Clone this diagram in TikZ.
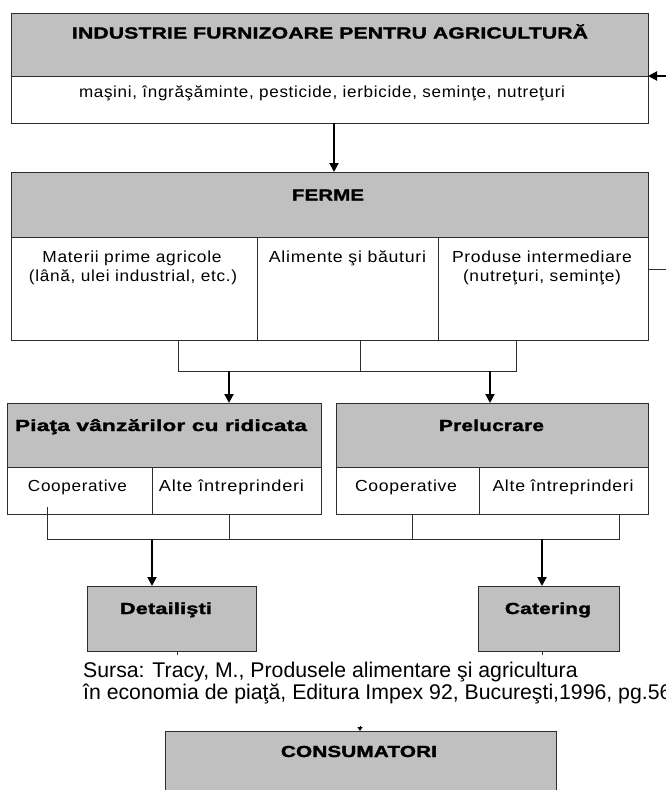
\documentclass[tikz,border=0pt]{standalone}
\usepackage{fontspec}
\usepackage{graphicx}
\setmainfont{Liberation Sans}
\newfontfamily\cellfont{Liberation Sans}[LetterSpace=4]
\newfontfamily\headfont{Liberation Sans Bold}[FakeBold=1.6, LetterSpace=1]
\usetikzlibrary{arrows.meta}
\definecolor{boxgray}{RGB}{192,192,192}
\definecolor{rulegray}{RGB}{45,45,45}
% stretch a text horizontally to a given width, keeping its height
\newcommand\fitw[2]{\resizebox{#1pt}{\height}{#2}}

\begin{document}
\begin{tikzpicture}[x=1pt,y=-1pt,
  cell/.style={draw=rulegray, line width=1pt, inner sep=0pt, outer sep=0pt, anchor=north west},
  graycell/.style={cell, fill=boxgray},
  whitecell/.style={cell, fill=white},
  txt/.style={inner sep=0pt, anchor=base, font=\cellfont\fontsize{16}{18}\selectfont},
  head/.style={inner sep=0pt, anchor=base, font=\headfont\fontsize{16}{18}\selectfont},
  note/.style={inner sep=0pt, anchor=base west, font=\fontsize{21.25}{24}\selectfont},
  link/.style={draw=rulegray, line width=1pt},
  flow/.style={draw=black, line width=2pt, -{Triangle[width=9pt,length=9pt]}},
  tip/.style={draw=black, line width=1pt, -{Triangle[width=5pt,length=4pt]}},
]
\useasboundingbox[fill=white] (0,0) rectangle (666,790);
\clip (0,0) rectangle (666,790);

% ---------- supplying industry ----------
\node[graycell, minimum width=637pt, minimum height=63pt] (ind) at (11,13) {};
\node[whitecell, minimum width=637pt, minimum height=47pt] (indw) at (11,76) {};
\node[head] (indT) at (330,38.5) {\fitw{516}{INDUSTRIE FURNIZOARE PENTRU AGRICULTURĂ}};
\node[txt] (indS) at (322,97) {\fitw{486}{maşini, îngrăşăminte, pesticide, ierbicide, seminţe, nutreţuri}};

% ---------- farms ----------
\node[graycell, minimum width=637pt, minimum height=65pt] (fer) at (11,172) {};
\node[whitecell, minimum width=246pt, minimum height=103pt] (fc1) at (11,237) {};
\node[whitecell, minimum width=181pt, minimum height=103pt] (fc2) at (257,237) {};
\node[whitecell, minimum width=210pt, minimum height=103pt] (fc3) at (438,237) {};
\node[head] (ferT) at (328,200.5) {\fitw{72}{FERME}};
\node[txt] (fc1a) at (132,262) {\fitw{179}{Materii prime agricole}};
\node[txt] (fc1b) at (133,281) {\fitw{208}{(lână, ulei industrial, etc.)}};
\node[txt] (fc2a) at (347.5,262) {\fitw{157}{Alimente şi băuturi}};
\node[txt] (fc3a) at (542,262) {\fitw{180}{Produse intermediare}};
\node[txt] (fc3b) at (542,281) {\fitw{158}{(nutreţuri, seminţe)}};

% ---------- wholesale market ----------
\node[graycell, minimum width=314pt, minimum height=64pt] (pia) at (7,403) {};
\node[whitecell, minimum width=145pt, minimum height=47pt] (pc1) at (7,467) {};
\node[whitecell, minimum width=169pt, minimum height=47pt] (pc2) at (152,467) {};
\node[head] (piaT) at (161,431) {\fitw{292}{Piaţa vânzărilor cu ridicata}};
\node[txt] (pc1a) at (77.5,491) {\fitw{99}{Cooperative}};
\node[txt] (pc2a) at (231.5,491) {\fitw{145}{Alte întreprinderi}};

% ---------- processing ----------
\node[graycell, minimum width=312pt, minimum height=64pt] (pre) at (336,403) {};
\node[whitecell, minimum width=143pt, minimum height=47pt] (qc1) at (336,467) {};
\node[whitecell, minimum width=169pt, minimum height=47pt] (qc2) at (479,467) {};
\node[head] (preT) at (491.5,431) {\fitw{105}{Prelucrare}};
\node[txt] (qc1a) at (406,491) {\fitw{102}{Cooperative}};
\node[txt] (qc2a) at (563,491) {\fitw{141}{Alte întreprinderi}};

% ---------- retail, catering, consumers ----------
\node[graycell, minimum width=169pt, minimum height=65pt] (det) at (87,586) {};
\node[head] (detT) at (166,614) {\fitw{92}{Detailişti}};
\node[graycell, minimum width=141pt, minimum height=65pt] (cat) at (478,586) {};
\node[head] (catT) at (548,614) {\fitw{86}{Catering}};
\node[graycell, minimum width=391pt, minimum height=80pt] (con) at (165,731) {};
\node[head] (conT) at (359,757) {\fitw{156}{CONSUMATORI}};

% ---------- source note ----------
\node[note] (src1) at (83,677.5) {Sursa: Tracy, M., Produsele alimentare şi agricultura};
\node[note] (src2) at (83,699.5) {în economia de piaţă, Editura Impex 92, Bucureşti,1996, pg.56};

% ---------- connector positions ----------
\coordinate (xa) at (334,0);
\coordinate (x1) at (178,0);
\coordinate (x2) at (360,0);
\coordinate (x3) at (516,0);
\coordinate (xb) at (229,0);
\coordinate (xc) at (490,0);
\coordinate (busA) at (0,371);
\coordinate (m1) at (47,507);
\coordinate (x4) at (229,0);
\coordinate (x5) at (412,0);
\coordinate (x6) at (619,0);
\coordinate (busB) at (0,539);
\coordinate (xd) at (152,0);
\coordinate (xe) at (542,0);
\coordinate (xf) at (177,0);
\coordinate (redge) at (666,76);
\coordinate (sedge) at (666,269);
\coordinate (ctop) at (360,726);

% industry -> farms
\draw[flow] (xa |- indw.south) -- (xa |- fer.north);

% farms -> wholesale / processing
\draw[link] (x1 |- fc1.south) -- (x1 |- busA) -- (x3 |- busA) -- (x3 |- fc3.south);
\draw[link] (x2 |- fc2.south) -- (x2 |- busA);
\draw[flow] (xb |- busA) -- (xb |- pia.north);
\draw[flow] (xc |- busA) -- (xc |- pre.north);

% wholesale / processing -> retail / catering
\draw[link] (m1) -- (m1 |- busB) -- (x6 |- busB) -- (x6 |- qc2.south);
\draw[link] (x4 |- pc2.south) -- (x4 |- busB);
\draw[link] (x5 |- qc1.south) -- (x5 |- busB);
\draw[flow] (xd |- busB) -- (xd |- det.north);
\draw[flow] (xe |- busB) -- (xe |- cat.north);

% short stubs below retail and catering
\draw[link] (xf |- det.south) -- ++(0,4);
\draw[link] (xe |- cat.south) -- ++(0,4);

% feedback from intermediate products back to industry
\draw[link] (fc3.east |- sedge) -- (sedge);
\draw[flow] (redge) -- (ind.south east);

% arrow tip into consumers
\draw[tip] (ctop) -- (ctop |- con.north);
\end{tikzpicture}
\end{document}
